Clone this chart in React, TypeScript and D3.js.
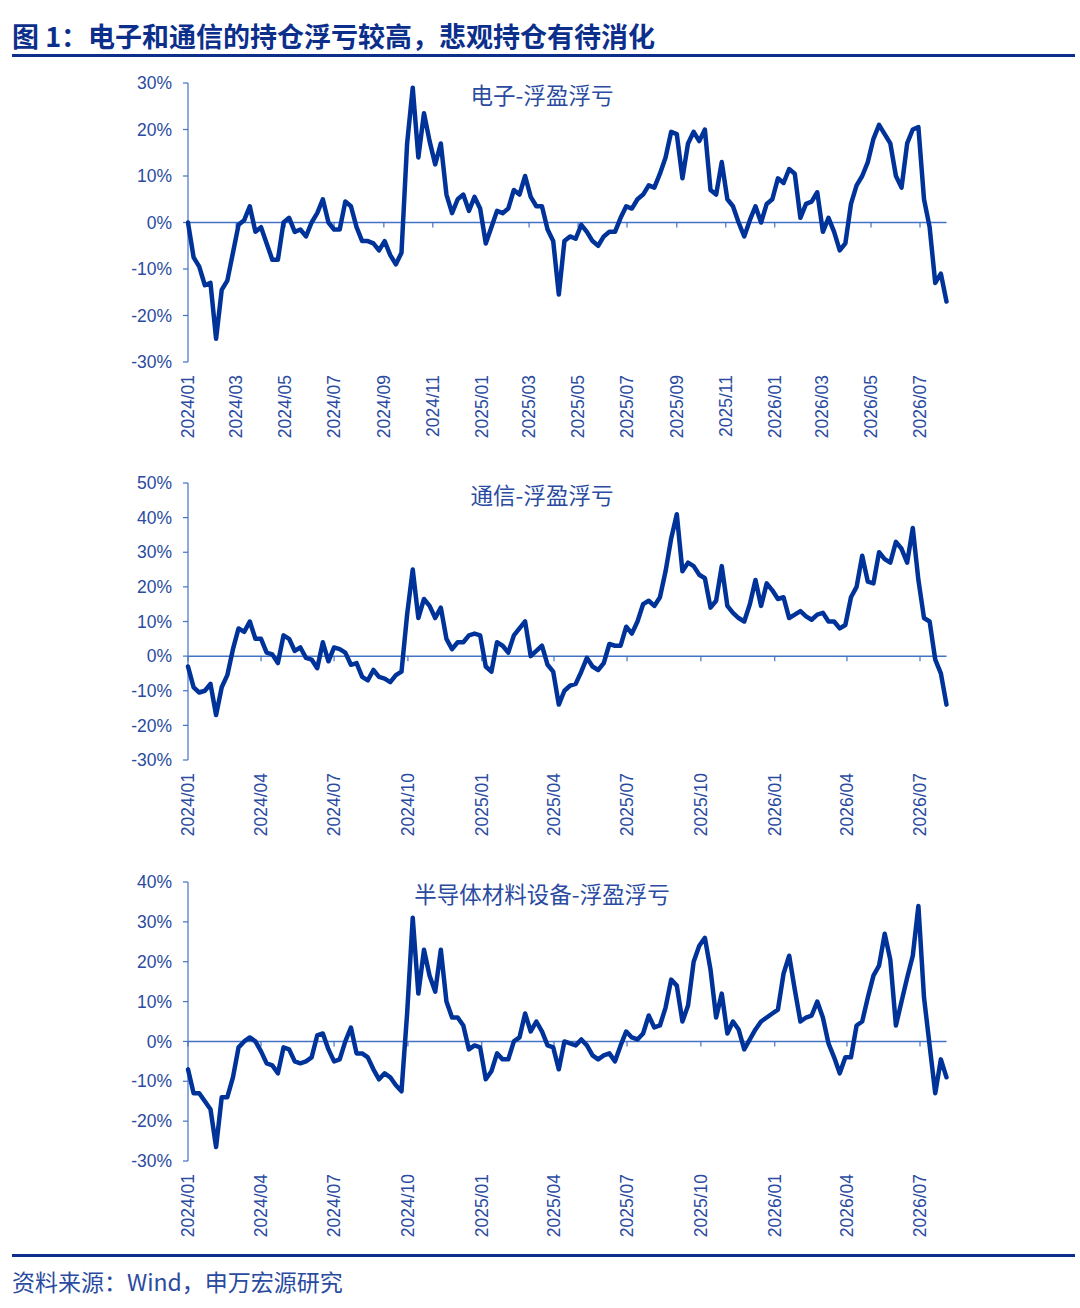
import React from 'react';
import * as d3 from 'd3';

// weekly observations starting 2024-01-01, values in %
const START_DATE = '2024-01-01';
const STEP_DAYS = 7;

const electronics = [
  0, -7.5, -9.5, -13.5, -13, -25, -14.5, -12.5, -6.5, -0.5,
  0.5, 3.5, -2, -1, -4.5, -8, -8, 0, 1, -2,
  -1.5, -3, 0, 2, 5, 0, -1.5, -1.5, 4.5, 3.5,
  -1, -4, -4, -4.5, -6, -4, -7, -9, -6.5, 17,
  29, 14, 23.5, 17.5, 12.5, 17, 6, 2, 5, 6,
  2.5, 5.5, 3, -4.5, -1, 2.5, 2, 3, 7, 6,
  10, 5.5, 3.5, 3.5, -1.5, -4, -15.5, -4, -3, -3.5,
  -0.5, -2, -4, -5, -3, -2, -2, 1, 3.5, 3,
  5, 6, 8, 7.5, 10.5, 14, 19.5, 19, 9.5, 17,
  19.5, 17.5, 20, 7, 6, 13, 5, 3.5, 0, -3,
  0.5, 3.5, 0, 4, 5, 9.5, 8.5, 11.5, 10.5, 1,
  4, 4.5, 6.5, -2, 1, -2, -6, -4.5, 4, 8,
  10, 13, 18, 21, 19, 17, 10, 7.5, 17, 20,
  20.5, 5, -1, -13, -11, -17,
];

const telecom = [
  -3, -9, -10.5, -10, -8, -17, -9, -5.5, 2, 8,
  7, 10, 5, 5, 1, 0.5, -2, 6, 5, 1.5,
  2.5, -0.5, -1, -3.5, 4, -1.5, 2.5, 2, 1, -2.5,
  -2, -6, -7, -4, -6, -6.5, -7.5, -5.5, -4.5, 12,
  25, 11, 16.5, 14.5, 11, 14, 5, 2, 4, 4,
  6, 6.5, 6, -3, -4.5, 4, 3, 1, 6, 8,
  10, 0, 1.5, 3, -2.5, -4.5, -14, -10, -8.5, -8,
  -4.5, -0.5, -3, -4, -2, 3.5, 3, 3, 8.5, 6.5,
  10, 15, 16, 14.5, 17, 24.5, 34, 41, 24.5, 27,
  26, 23.5, 22.5, 14, 16, 26, 14.5, 12.5, 11, 10,
  15, 22, 14.5, 21, 19, 16.5, 17, 11, 12, 13,
  11.5, 10.5, 12, 12.5, 10, 10, 8, 9, 17, 20,
  29, 21.5, 21, 30, 28, 27, 33, 31, 27, 37,
  22, 11, 10, -1, -5, -14,
];

const semis = [
  -7, -13, -13, -15, -17, -26.5, -14, -14, -9, -1.5,
  0, 1, 0, -2.5, -5.5, -6, -8, -1.5, -2, -5,
  -5.5, -5, -4, 1.5, 2, -2, -5, -4.5, 0, 3.5,
  -3, -3, -4, -7, -9.5, -8, -9, -11, -12.5, 7,
  31, 12, 23, 16.5, 12.5, 23, 10, 6, 6, 4,
  -2, -1, -1.5, -9.5, -7.5, -3, -4.5, -4.5, 0, 1,
  7, 2.5, 5, 2.5, -1, -1.5, -7, 0, -0.5, -1,
  0.5, -1, -3.5, -4.5, -3.5, -3, -5, -1, 2.5, 1,
  0.5, 2, 6.5, 3.5, 4, 8.5, 15.5, 14, 5, 9,
  20, 24, 26, 18, 6, 12, 2, 5, 3, -2,
  0.5, 3, 5, 6, 7, 8, 17, 21.5, 13, 5,
  6, 6.5, 10, 6, -0.5, -4, -8, -4, -4, 4,
  5, 11, 16.5, 19, 27, 20.5, 4, 10, 16, 21.5,
  34, 11, -1, -13, -4.5, -9,
];

const xTicksBiMonthly = [
  '2024/01', '2024/03', '2024/05', '2024/07', '2024/09', '2024/11',
  '2025/01', '2025/03', '2025/05', '2025/07', '2025/09', '2025/11',
  '2026/01', '2026/03', '2026/05', '2026/07',
];
const xTicksQuarterly = [
  '2024/01', '2024/04', '2024/07', '2024/10', '2025/01', '2025/04',
  '2025/07', '2025/10', '2026/01', '2026/04', '2026/07',
];

const yTicksElec = [30, 20, 10, 0, -10, -20, -30];
const yTicksTele = [50, 40, 30, 20, 10, 0, -10, -20, -30];
const yTicksSemi = [40, 30, 20, 10, 0, -10, -20, -30];

const TITLE = '图 1：电子和通信的持仓浮亏较高，悲观持仓有待消化';
const SOURCE = '资料来源：Wind，申万宏源研究';

const AXIS = '#4472c4';
const TEXT = '#2a4b9f';
const LINE = '#003399';
const DARK = '#0c2f8c';
const LATIN = '"Liberation Sans", Arial, sans-serif';
const CJK = '"Noto Sans CJK SC", "Noto Sans", sans-serif';

const parseTick = d3.timeParse('%Y/%m');
const startDate = d3.timeParse('%Y-%m-%d')(START_DATE) as Date;

interface PanelProps {
  name: string;
  values: number[];
  yTicks: number[];
  xTicks: string[];
  top: number;
  bottom: number;
}

function Panel({ name, values, yTicks, xTicks, top, bottom }: PanelProps) {
  const x = d3.scaleTime()
    .domain([startDate, parseTick('2026/07') as Date])
    .range([188, 920]);
  const y = d3.scaleLinear()
    .domain([d3.min(yTicks) as number, d3.max(yTicks) as number])
    .range([bottom, top]);

  const dates = values.map((_, i) => d3.timeDay.offset(startDate, i * STEP_DAYS));
  const line = d3.line<number>()
    .x((_, i) => x(dates[i]))
    .y((d) => y(d));

  const x0 = x.range()[0];
  const xEnd = x(dates[dates.length - 1]);
  const zero = y(0);

  return (
    <g>
      <text x={542} y={top + 21} textAnchor="middle" fontFamily={CJK} fontSize={22.5} fill={TEXT}>
        {name}
      </text>
      {/* y axis */}
      <line x1={x0} x2={x0} y1={top} y2={bottom} stroke={AXIS} strokeWidth={1.2} />
      {yTicks.map((t) => (
        <g key={t}>
          <line x1={x0 - 5} x2={x0} y1={y(t)} y2={y(t)} stroke={AXIS} strokeWidth={1.2} />
          <text x={172} y={y(t)} dy="0.35em" textAnchor="end" fontFamily={LATIN} fontSize={17.5} fill={TEXT}>
            {`${t}%`}
          </text>
        </g>
      ))}
      {/* zero line with month ticks */}
      <line x1={x0} x2={xEnd} y1={zero} y2={zero} stroke={AXIS} strokeWidth={1.5} />
      {xTicks.map((t) => {
        const tx = x(parseTick(t) as Date);
        return (
          <g key={t}>
            <line x1={tx} x2={tx} y1={zero} y2={zero + 5} stroke={AXIS} strokeWidth={1.2} />
            <text
              transform={`translate(${tx},${bottom + 13}) rotate(-90)`}
              dy="0.35em"
              textAnchor="end"
              fontFamily={LATIN}
              fontSize={17.5}
              fill={TEXT}
            >
              {t}
            </text>
          </g>
        );
      })}
      <path d={line(values) || ''} fill="none" stroke={LINE} strokeWidth={4.5} strokeLinejoin="round" strokeLinecap="round" />
    </g>
  );
}

export default function App() {
  return (
    <svg
      width={1080}
      height={1308}
      style={{ position: 'absolute', left: 0, top: 0, background: '#fff' }}
    >
      <text x={12} y={47} fontFamily={CJK} fontWeight="bold" fontSize={27} fill={DARK}>
        {TITLE}
      </text>
      <rect x={12} y={54} width={1063} height={3} fill={DARK} />

      <Panel name="电子-浮盈浮亏" values={electronics} yTicks={yTicksElec} xTicks={xTicksBiMonthly} top={83} bottom={362} />
      <Panel name="通信-浮盈浮亏" values={telecom} yTicks={yTicksTele} xTicks={xTicksQuarterly} top={483} bottom={760} />
      <Panel name="半导体材料设备-浮盈浮亏" values={semis} yTicks={yTicksSemi} xTicks={xTicksQuarterly} top={882} bottom={1161} />

      <rect x={12} y={1254} width={1063} height={3} fill={DARK} />
      <text x={12} y={1291} fontFamily={CJK} fontSize={23} fill={TEXT}>
        {SOURCE}
      </text>
    </svg>
  );
}
